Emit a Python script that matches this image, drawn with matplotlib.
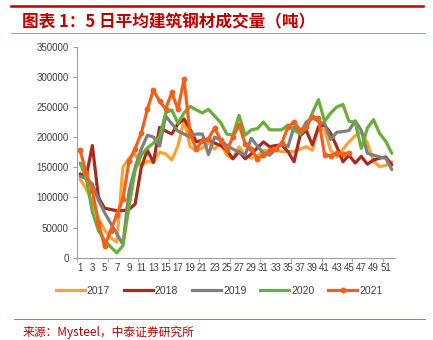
import matplotlib
matplotlib.use('Agg')
import matplotlib.pyplot as plt
from matplotlib.lines import Line2D
import numpy as np

plt.rcParams['font.family'] = ['Liberation Sans', 'Noto Sans CJK SC', 'DejaVu Sans']

# 5日平均建筑钢材成交量（吨），按周
weeks = np.arange(1, 53)
v2017 = [130000, 114000, 92000, 65000, 46000, 33000, 26000, 150000, 165000, 172000,
         152000, 160000, 158000, 175000, 172000, 162000, 185000, 228000, 184000, 178000,
         182000, 190000, 180000, 189000, 170000, 164000, 184000, 170000, 165000, 168000,
         178000, 176000, 178000, 176000, 176000, 176000, 180000, 184000, 178000, 217000,
         211000, 178000, 167000, 180000, 192000, 202000, 209000, 190000, 160000, 151000,
         153000, 159000]
v2018 = [139000, 135000, 186000, 100000, 82000, 80000, 78000, 78000, 80000, 89000,
         150000, 178000, 158000, 216000, 210000, 205000, 222000, 230000, 213000, 192000,
         195000, 195000, 190000, 186000, 178000, 164000, 176000, 164000, 172000, 182000,
         192000, 184000, 186000, 187000, 176000, 159000, 203000, 211000, 187000, 217000,
         220000, 206000, 184000, 159000, 170000, 157000, 168000, 155000, 162000, 165000,
         167000, 154000]
v2019 = [135000, 131000, 122000, 95000, 75000, 57000, 40000, 22000, 110000, 150000,
         180000, 203000, 200000, 185000, 235000, 222000, 210000, 205000, 200000, 205000,
         205000, 171000, 200000, 195000, 186000, 180000, 175000, 170000, 198000, 185000,
         173000, 170000, 180000, 189000, 184000, 217000, 205000, 225000, 232000, 226000,
         222000, 196000, 208000, 209000, 211000, 227000, 211000, 173000, 170000, 167000,
         165000, 146000]
v2020 = [157000, 132000, 76000, 45000, 29000, 18000, 8000, 20000, 85000, 145000,
         170000, 182000, 190000, 200000, 240000, 245000, 223000, 240000, 251000, 245000,
         240000, 246000, 235000, 224000, 205000, 203000, 236000, 203000, 212000, 214000,
         225000, 212000, 212000, 212000, 220000, 212000, 205000, 215000, 240000, 262000,
         226000, 240000, 250000, 254000, 226000, 225000, 181000, 215000, 229000, 206000,
         193000, 173000]
v2021 = [178000, 140000, 111000, 58000, 19000, 45000, 71000, 97000, 160000, 181000,
         206000, 246000, 278000, 259000, 247000, 274000, 246000, 296000, 205000, 180000,
         194000, 197000, 215000, 195000, 178000, 200000, 220000, 189000, 181000, 164000,
         170000, 178000, 181000, 190000, 217000, 225000, 211000, 217000, 234000, 231000,
         170000, 169000, 174000, 172000, 174000]

series = [('2017', v2017, '#F7A435'),
          ('2018', v2018, '#A82A22'),
          ('2019', v2019, '#7F7F7F'),
          ('2020', v2020, '#6AAE3A'),
          ('2021', v2021, '#F0611C')]

fig = plt.figure(figsize=(4.33, 3.4), dpi=100)
ax = fig.add_axes([0.178, 0.242, 0.734, 0.621])

for name, vals, col in series:
    x = weeks[:len(vals)]
    if name == '2021':
        ax.plot(x, vals, color=col, lw=2.3, marker='o', ms=3.2,
                solid_joinstyle='round', solid_capstyle='round', zorder=5)
    else:
        ax.plot(x, vals, color=col, lw=2.3,
                solid_joinstyle='round', solid_capstyle='round')

ax.set_xlim(0.5, 52.5)
ax.set_ylim(0, 350000)
ax.set_yticks(np.arange(0, 350001, 50000))
ax.set_yticklabels([str(v) for v in range(0, 350001, 50000)])
ax.set_xticks(np.arange(1, 52, 2))
ax.set_xticks(np.arange(0.5, 53, 5), minor=True)
ax.tick_params(axis='x', which='major', length=0, pad=4, labelsize=7, labelcolor='#404040')
ax.tick_params(axis='x', which='minor', length=3, color='#A0A0A0', direction='out')
ax.tick_params(axis='y', length=3, color='#A0A0A0', labelsize=7, labelcolor='#404040', pad=3)

for s in ['top', 'right']:
    ax.spines[s].set_visible(False)
for s in ['left', 'bottom']:
    ax.spines[s].set_color('#A0A0A0')
    ax.spines[s].set_linewidth(0.8)

handles = []
for name, vals, col in series:
    if name == '2021':
        handles.append(Line2D([], [], color=col, lw=2.3, marker='o', ms=3.2, markevery=[1]))
    else:
        handles.append(Line2D([], [], color=col, lw=2.3))
fig.legend(handles, [s[0] for s in series], loc='center', bbox_to_anchor=(0.506, 0.144),
           ncol=5, frameon=False, fontsize=7.5, handlelength=2.8, handletextpad=0.2,
           columnspacing=1.3, labelcolor='#404040')

# 标题与来源
fig.add_artist(Line2D([11 / 433, 423 / 433], [1 - 5.5 / 340] * 2, color='#C00000', lw=1.8))
fig.add_artist(Line2D([11 / 433, 425 / 433], [1 - 32.5 / 340] * 2, color='#E88080', lw=0.7))
fig.text(22 / 433, 1 - 22 / 340, '图表 1：5 日平均建筑钢材成交量（吨）', color='#C00000',
         fontsize=12, fontweight='bold', va='center', ha='left',
         family=['Noto Sans CJK SC', 'DejaVu Sans'])
fig.add_artist(Line2D([14 / 433, 425 / 433], [1 - 319 / 340] * 2, color='#E06060', lw=0.7))
fig.text(23 / 433, 1 - 332 / 340, '来源：Mysteel，中泰证券研究所', color='#C00000',
         fontsize=8.5, va='center', ha='left',
         family=['Noto Sans CJK SC', 'DejaVu Sans'])

fig.savefig('out.png', dpi=100)
